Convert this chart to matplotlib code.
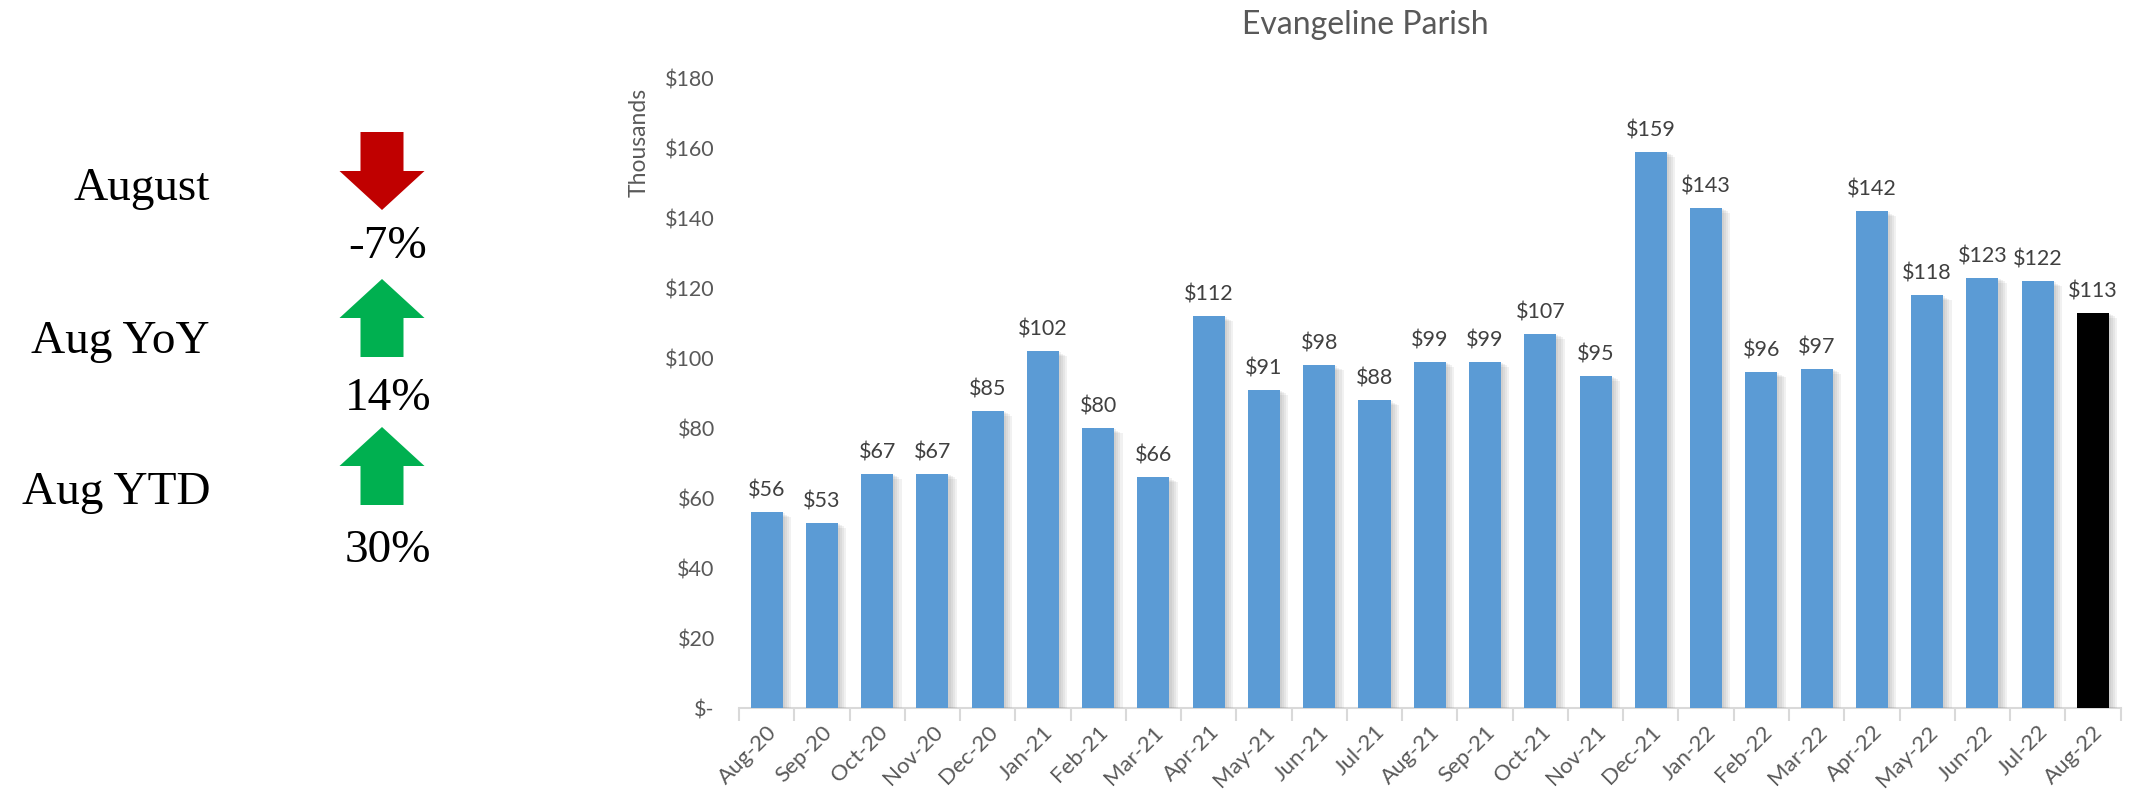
import matplotlib
matplotlib.use("Agg")
import matplotlib.pyplot as plt
import matplotlib.patheffects as pe
from matplotlib.patches import Polygon
from matplotlib.ticker import FixedLocator, FuncFormatter

months = ["Aug-20", "Sep-20", "Oct-20", "Nov-20", "Dec-20", "Jan-21", "Feb-21",
          "Mar-21", "Apr-21", "May-21", "Jun-21", "Jul-21", "Aug-21", "Sep-21",
          "Oct-21", "Nov-21", "Dec-21", "Jan-22", "Feb-22", "Mar-22", "Apr-22",
          "May-22", "Jun-22", "Jul-22", "Aug-22"]
revenue = [56, 53, 67, 67, 85, 102, 80, 66, 112, 91, 98, 88, 99, 99, 107, 95,
           159, 143, 96, 97, 142, 118, 123, 122, 113]

kpi_names = ["August", "Aug YoY", "Aug YTD"]
kpi_change = [-7, 14, 30]

BLUE = "#5B9BD5"
GRAY_TXT = "#595959"
SANS = ["Lato", "DejaVu Sans"]
SERIF = ["Liberation Serif", "DejaVu Serif"]

fig = plt.figure(figsize=(21.42, 7.92), dpi=100)

# left panel drawn in pixel coordinates
side = fig.add_axes([0, 0, 1, 1])
side.set_xlim(0, 2142)
side.set_ylim(792, 0)
side.axis("off")


def draw_arrow(ax, cx, top, up, color):
    w, h, shaft = 85, 78, 43
    head = h / 2
    if up:
        pts = [(cx, top), (cx + w / 2, top + head), (cx + shaft / 2, top + head),
               (cx + shaft / 2, top + h), (cx - shaft / 2, top + h),
               (cx - shaft / 2, top + head), (cx - w / 2, top + head)]
    else:
        bot = top + h
        pts = [(cx, bot), (cx + w / 2, bot - head), (cx + shaft / 2, bot - head),
               (cx + shaft / 2, top), (cx - shaft / 2, top),
               (cx - shaft / 2, bot - head), (cx - w / 2, bot - head)]
    ax.add_patch(Polygon(pts, closed=True, facecolor=color, edgecolor="none"))


name_base = [200, 353, 504]
arrow_top = [132, 279, 427]
pct_base = [258, 410, 562]
for name, chg, nb, at, pb in zip(kpi_names, kpi_change, name_base, arrow_top, pct_base):
    side.text(210, nb, name, ha="right", va="baseline", fontsize=34,
              family=SERIF, color="black")
    up = chg >= 0
    draw_arrow(side, 382, at, up, "#00B050" if up else "#C00000")
    side.text(388, pb, f"{chg}%", ha="center", va="baseline", fontsize=34,
              family=SERIF, color="black")

# main bar chart
ax = fig.add_axes([0.345, 0.106, 0.645, 0.7955])
x = list(range(len(months)))
colors = [BLUE] * (len(months) - 1) + ["black"]
shadow = [pe.SimplePatchShadow(offset=(d, -d * 0.6), shadow_rgbFace="#7f7f7f",
                               alpha=0.1) for d in (6, 4.5, 3, 1.5)] + [pe.Normal()]
bars = ax.bar(x, revenue, width=0.58, color=colors, zorder=3)
for b in bars:
    b.set_path_effects(shadow)

for xi, v in zip(x, revenue):
    ax.annotate(f"${v}", (xi, v), xytext=(0, 8), textcoords="offset points",
                ha="center", va="bottom", fontsize=15.5, family=SANS, color="#404040")

ax.set_xlim(-0.5, len(months) - 0.5)
ax.set_ylim(0, 180)
ax.set_yticks(range(0, 181, 20))
ax.yaxis.set_major_formatter(FuncFormatter(lambda v, p: "$-" if v == 0 else f"${int(v)}"))
ax.set_xticks(x)
ax.set_xticklabels(months, rotation=45, ha="right", rotation_mode="anchor",
                   fontsize=16, family=SANS, color=GRAY_TXT)
ax.xaxis.set_minor_locator(FixedLocator([i - 0.5 for i in range(len(months) + 1)]))
ax.tick_params(axis="x", which="major", length=0, pad=10)
ax.tick_params(axis="x", which="minor", length=9, color="#D9D9D9", width=1.5)
ax.tick_params(axis="y", length=0, pad=17.5, labelsize=15.5, labelcolor=GRAY_TXT)
for lbl in ax.get_yticklabels():
    lbl.set_family(SANS)

for s in ("top", "right", "left"):
    ax.spines[s].set_visible(False)
ax.spines["bottom"].set_color("#D9D9D9")
ax.spines["bottom"].set_linewidth(1.5)

fig.text(0.6376, 0.968, "Evangeline Parish", ha="center", va="center",
         fontsize=23, family=SANS, color=GRAY_TXT)
fig.text(0.2985, 0.82, "Thousands", rotation=90, ha="center", va="center",
         fontsize=16.5, family=SANS, color=GRAY_TXT)

fig.savefig("out.png", dpi=100, facecolor="white")
